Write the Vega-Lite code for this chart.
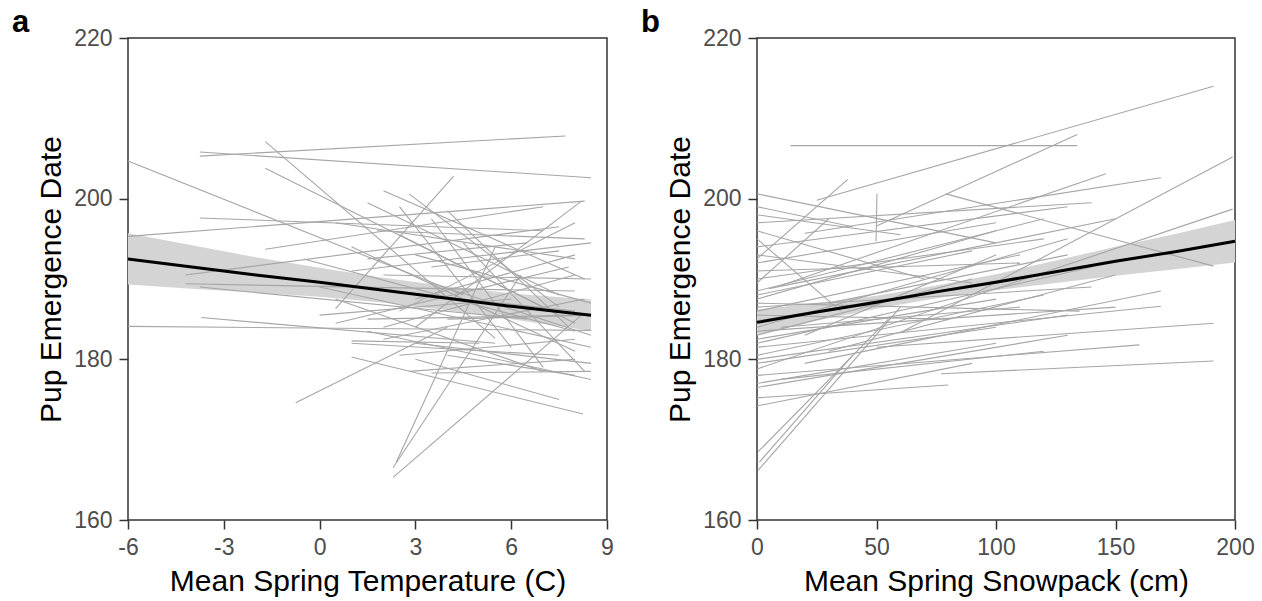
{
  "$schema": "https://vega.github.io/schema/vega-lite/v6.json",
  "background": "white",
  "padding": {"left": 11, "top": 6, "right": 0, "bottom": 0},
  "spacing": 25,
  "config": {
    "font": "Liberation Sans",
    "view": {"stroke": "#333333", "strokeWidth": 1.5},
    "axis": {
      "grid": false,
      "domain": false,
      "ticks": true,
      "tickColor": "#333333",
      "tickWidth": 1.5,
      "tickSize": 9,
      "labelColor": "#4D4D4D",
      "labelFontSize": 23,
      "labelFont": "Liberation Sans",
      "labelPadding": 7,
      "labelFlush": false,
      "labelOverlap": false,
      "labelExpr": "'' + datum.value",
      "titleColor": "#000000",
      "titleFontSize": 30,
      "titleFontWeight": "normal",
      "titleFont": "Liberation Sans",
      "titlePadding": 7
    },
    "title": {"fontSize": 31, "fontWeight": "bold", "font": "Liberation Sans", "color": "#000000", "anchor": "start", "frame": "group", "offset": -12}
  },
  "datasets": {
    "linesA": [
      {"id":1,"x":-6,"y":204.7},{"id":1,"x":4.5,"y":188.0},
      {"id":2,"x":-3.75,"y":205.3},{"id":2,"x":7.7,"y":207.8},
      {"id":3,"x":-3.75,"y":205.8},{"id":3,"x":8.5,"y":202.6},
      {"id":4,"x":-1.7,"y":207.1},{"id":4,"x":5.5,"y":182.6},
      {"id":5,"x":-1.7,"y":203.8},{"id":5,"x":7.0,"y":186.5},
      {"id":6,"x":-6,"y":195.3},{"id":6,"x":8.3,"y":199.7},
      {"id":7,"x":-6,"y":184.1},{"id":7,"x":8.5,"y":183.6},
      {"id":8,"x":-3.7,"y":185.2},{"id":8,"x":5.5,"y":182.0},
      {"id":9,"x":-0.75,"y":174.6},{"id":9,"x":4.0,"y":184.0},
      {"id":10,"x":2.3,"y":165.3},{"id":10,"x":8.2,"y":185.5},
      {"id":11,"x":2.3,"y":166.5},{"id":11,"x":6.3,"y":190.5},
      {"id":12,"x":2.4,"y":167.2},{"id":12,"x":5.5,"y":194.0},
      {"id":13,"x":0.5,"y":186.3},{"id":13,"x":4.2,"y":202.8},
      {"id":14,"x":1.0,"y":180.3},{"id":14,"x":8.25,"y":173.2},
      {"id":15,"x":3.0,"y":180.0},{"id":15,"x":7.5,"y":175.0},
      {"id":16,"x":-3.75,"y":197.6},{"id":16,"x":7.0,"y":196.0},
      {"id":17,"x":-4.2,"y":190.5},{"id":17,"x":7.5,"y":196.5},
      {"id":18,"x":-4.2,"y":189.4},{"id":18,"x":8.0,"y":188.5},
      {"id":19,"x":-3.75,"y":189.0},{"id":19,"x":6.5,"y":185.0},
      {"id":20,"x":-1.7,"y":193.7},{"id":20,"x":7.0,"y":199.0},
      {"id":21,"x":1.0,"y":194.0},{"id":21,"x":8.0,"y":181.0},
      {"id":22,"x":1.5,"y":199.5},{"id":22,"x":7.5,"y":188.0},
      {"id":23,"x":2.0,"y":201.0},{"id":23,"x":8.3,"y":190.0},
      {"id":24,"x":0.5,"y":197.0},{"id":24,"x":8.0,"y":192.5},
      {"id":25,"x":1.0,"y":191.0},{"id":25,"x":8.5,"y":194.5},
      {"id":26,"x":2.5,"y":186.0},{"id":26,"x":8.0,"y":197.0},
      {"id":27,"x":3.0,"y":184.0},{"id":27,"x":8.2,"y":199.7},
      {"id":28,"x":0.0,"y":189.0},{"id":28,"x":8.5,"y":181.5},
      {"id":29,"x":1.5,"y":185.0},{"id":29,"x":8.0,"y":185.5},
      {"id":30,"x":2.0,"y":182.5},{"id":30,"x":8.3,"y":187.5},
      {"id":31,"x":1.0,"y":182.0},{"id":31,"x":7.5,"y":180.5},
      {"id":32,"x":2.5,"y":180.5},{"id":32,"x":8.0,"y":182.5},
      {"id":33,"x":0.5,"y":187.5},{"id":33,"x":7.0,"y":178.5},
      {"id":34,"x":3.0,"y":193.0},{"id":34,"x":8.5,"y":187.0},
      {"id":35,"x":1.8,"y":196.0},{"id":35,"x":8.3,"y":195.0},
      {"id":36,"x":2.2,"y":188.5},{"id":36,"x":8.0,"y":186.0},
      {"id":37,"x":3.5,"y":191.5},{"id":37,"x":7.5,"y":193.5},
      {"id":38,"x":2.0,"y":190.5},{"id":38,"x":8.5,"y":190.0},
      {"id":39,"x":-0.5,"y":192.5},{"id":39,"x":8.0,"y":183.5},
      {"id":40,"x":3.0,"y":182.0},{"id":40,"x":8.5,"y":179.5},
      {"id":41,"x":2.8,"y":178.5},{"id":41,"x":8.0,"y":180.0},
      {"id":42,"x":3.5,"y":197.5},{"id":42,"x":7.0,"y":179.0},
      {"id":43,"x":2.5,"y":199.0},{"id":43,"x":6.0,"y":181.5},
      {"id":44,"x":1.5,"y":183.5},{"id":44,"x":8.5,"y":177.5},
      {"id":45,"x":4.0,"y":185.0},{"id":45,"x":8.5,"y":185.5},
      {"id":46,"x":4.5,"y":194.5},{"id":46,"x":8.3,"y":178.5},
      {"id":47,"x":3.0,"y":187.5},{"id":47,"x":8.0,"y":193.0},
      {"id":48,"x":1.0,"y":182.3},{"id":48,"x":5.0,"y":182.0},
      {"id":49,"x":2.8,"y":200.6},{"id":49,"x":7.5,"y":186.5},
      {"id":50,"x":3.5,"y":178.3},{"id":50,"x":8.5,"y":178.5},
      {"id":51,"x":0.5,"y":184.5},{"id":51,"x":7.8,"y":191.5},
      {"id":52,"x":4.0,"y":198.5},{"id":52,"x":7.8,"y":184.0},
      {"id":53,"x":2.0,"y":184.0},{"id":53,"x":8.0,"y":190.5},
      {"id":54,"x":3.5,"y":189.5},{"id":54,"x":8.5,"y":183.0},
      {"id":55,"x":1.5,"y":192.5},{"id":55,"x":6.5,"y":194.5},
      {"id":56,"x":4.0,"y":180.5},{"id":56,"x":8.0,"y":178.0},
      {"id":57,"x":2.5,"y":195.5},{"id":57,"x":8.0,"y":184.5},
      {"id":58,"x":0.0,"y":185.5},{"id":58,"x":6.0,"y":187.5}
    ],
    "ribbonA": [
      {"x":-6,"lo":189.3,"hi":195.7,"m":192.5},
      {"x":-4,"lo":188.8,"hi":194.2,"m":191.5},
      {"x":-2,"lo":188.3,"hi":192.7,"m":190.5},
      {"x":0,"lo":187.8,"hi":191.4,"m":189.6},
      {"x":2,"lo":187.05,"hi":190.15,"m":188.6},
      {"x":4,"lo":186.1,"hi":189.1,"m":187.6},
      {"x":6,"lo":185.0,"hi":188.2,"m":186.6},
      {"x":8.5,"lo":183.55,"hi":187.45,"m":185.5}
    ],
    "linesB": [
      {"id":1,"x":14,"y":206.6},{"id":1,"x":134,"y":206.6},
      {"id":2,"x":25,"y":199.8},{"id":2,"x":191,"y":214.0},
      {"id":3,"x":50,"y":196.6},{"id":3,"x":134,"y":208.0},
      {"id":4,"x":60,"y":183.3},{"id":4,"x":199,"y":205.2},
      {"id":5,"x":0,"y":178.8},{"id":5,"x":199,"y":198.7},
      {"id":6,"x":79,"y":200.6},{"id":6,"x":191,"y":191.6},
      {"id":7,"x":0,"y":200.6},{"id":7,"x":100,"y":194.5},
      {"id":8,"x":0,"y":192.5},{"id":8,"x":38,"y":202.4},
      {"id":9,"x":0,"y":195.0},{"id":9,"x":35,"y":186.0},
      {"id":10,"x":0,"y":189.5},{"id":10,"x":30,"y":197.5},
      {"id":11,"x":49.8,"y":194.7},{"id":11,"x":50.2,"y":200.6},
      {"id":12,"x":20,"y":179.5},{"id":12,"x":169,"y":188.5},
      {"id":13,"x":0,"y":181.5},{"id":13,"x":169,"y":186.6},
      {"id":14,"x":50,"y":181.5},{"id":14,"x":191,"y":184.5},
      {"id":15,"x":77,"y":178.2},{"id":15,"x":191,"y":179.8},
      {"id":16,"x":0.5,"y":166.2},{"id":16,"x":60,"y":186.5},
      {"id":17,"x":0.5,"y":168.5},{"id":17,"x":55,"y":185.0},
      {"id":18,"x":1,"y":167.2},{"id":18,"x":40,"y":180.5},
      {"id":19,"x":0,"y":175.2},{"id":19,"x":80,"y":176.8},
      {"id":20,"x":0,"y":174.2},{"id":20,"x":90,"y":179.5},
      {"id":21,"x":0,"y":178.0},{"id":21,"x":160,"y":181.8},
      {"id":22,"x":10,"y":189.2},{"id":22,"x":146,"y":203.1},
      {"id":23,"x":20,"y":195.7},{"id":23,"x":169,"y":202.6},
      {"id":24,"x":0,"y":197.0},{"id":24,"x":140,"y":199.5},
      {"id":25,"x":0,"y":194.0},{"id":25,"x":130,"y":199.0},
      {"id":26,"x":0,"y":188.5},{"id":26,"x":120,"y":197.5},
      {"id":27,"x":0,"y":187.5},{"id":27,"x":100,"y":196.0},
      {"id":28,"x":0,"y":186.0},{"id":28,"x":110,"y":193.0},
      {"id":29,"x":0,"y":184.0},{"id":29,"x":130,"y":195.0},
      {"id":30,"x":0,"y":183.0},{"id":30,"x":90,"y":190.0},
      {"id":31,"x":0,"y":182.0},{"id":31,"x":140,"y":191.5},
      {"id":32,"x":0,"y":180.5},{"id":32,"x":120,"y":188.0},
      {"id":33,"x":0,"y":179.5},{"id":33,"x":100,"y":184.0},
      {"id":34,"x":0,"y":183.5},{"id":34,"x":150,"y":186.5},
      {"id":35,"x":0,"y":185.5},{"id":35,"x":80,"y":185.0},
      {"id":36,"x":0,"y":191.0},{"id":36,"x":110,"y":192.0},
      {"id":37,"x":0,"y":193.0},{"id":37,"x":90,"y":189.5},
      {"id":38,"x":0,"y":198.0},{"id":38,"x":60,"y":195.5},
      {"id":39,"x":5,"y":188.8},{"id":39,"x":150,"y":197.5},
      {"id":40,"x":0,"y":176.5},{"id":40,"x":130,"y":183.0},
      {"id":41,"x":10,"y":177.5},{"id":41,"x":120,"y":181.0},
      {"id":42,"x":0,"y":187.0},{"id":42,"x":135,"y":186.0},
      {"id":43,"x":30,"y":181.0},{"id":43,"x":150,"y":190.5},
      {"id":44,"x":0,"y":184.8},{"id":44,"x":115,"y":190.5},
      {"id":45,"x":20,"y":183.0},{"id":45,"x":100,"y":193.0},
      {"id":46,"x":0,"y":196.0},{"id":46,"x":70,"y":190.0},
      {"id":47,"x":0,"y":190.0},{"id":47,"x":120,"y":195.0},
      {"id":48,"x":0,"y":186.5},{"id":48,"x":140,"y":189.0},
      {"id":49,"x":0,"y":182.5},{"id":49,"x":100,"y":187.5},
      {"id":50,"x":0,"y":180.0},{"id":50,"x":130,"y":185.5},
      {"id":51,"x":0,"y":188.0},{"id":51,"x":90,"y":193.5},
      {"id":52,"x":10,"y":184.0},{"id":52,"x":110,"y":186.5},
      {"id":53,"x":0,"y":177.0},{"id":53,"x":100,"y":182.0},
      {"id":54,"x":0,"y":192.0},{"id":54,"x":100,"y":197.0},
      {"id":55,"x":30,"y":187.0},{"id":55,"x":130,"y":193.0},
      {"id":56,"x":0,"y":199.0},{"id":56,"x":40,"y":196.5}
    ],
    "ribbonB": [
      {"x":0,"lo":183.0,"hi":186.2,"m":184.6},
      {"x":25,"lo":184.8,"hi":187.0,"m":185.9},
      {"x":50,"lo":186.3,"hi":187.9,"m":187.1},
      {"x":75,"lo":187.6,"hi":189.2,"m":188.4},
      {"x":100,"lo":188.6,"hi":190.6,"m":189.6},
      {"x":125,"lo":189.5,"hi":192.3,"m":190.9},
      {"x":150,"lo":190.4,"hi":194.0,"m":192.2},
      {"x":175,"lo":191.2,"hi":195.6,"m":193.4},
      {"x":200,"lo":192.05,"hi":197.35,"m":194.7}
    ]
  },
  "hconcat": [
    {
      "width": 479,
      "height": 482,
      "title": {"text": "a", "dx": -116},
      "layer": [
        {
          "data": {"name": "ribbonA"},
          "mark": {"type": "area", "color": "#D4D4D4", "opacity": 1},
          "encoding": {
            "x": {"field": "x", "type": "quantitative", "scale": {"domain": [-6, 9], "nice": false, "zero": false}, "axis": {"values": [-6, -3, 0, 3, 6, 9], "title": "Mean Spring Temperature (C)"}},
            "y": {"field": "lo", "type": "quantitative", "scale": {"domain": [160, 220], "nice": false, "zero": false}, "axis": {"values": [160, 180, 200, 220], "title": "Pup Emergence Date"}},
            "y2": {"field": "hi"}
          }
        },
        {
          "data": {"name": "linesA"},
          "mark": {"type": "line", "color": "#A6A6A6", "strokeWidth": 1.1},
          "encoding": {
            "x": {"field": "x", "type": "quantitative"},
            "y": {"field": "y", "type": "quantitative"},
            "detail": {"field": "id", "type": "nominal"}
          }
        },
        {
          "data": {"name": "ribbonA"},
          "mark": {"type": "line", "color": "#000000", "strokeWidth": 3},
          "encoding": {
            "x": {"field": "x", "type": "quantitative"},
            "y": {"field": "m", "type": "quantitative"}
          }
        }
      ]
    },
    {
      "width": 478,
      "height": 482,
      "title": {"text": "b", "dx": -116},
      "layer": [
        {
          "data": {"name": "ribbonB"},
          "mark": {"type": "area", "color": "#D4D4D4", "opacity": 1},
          "encoding": {
            "x": {"field": "x", "type": "quantitative", "scale": {"domain": [0, 200], "nice": false, "zero": false}, "axis": {"values": [0, 50, 100, 150, 200], "title": "Mean Spring Snowpack (cm)"}},
            "y": {"field": "lo", "type": "quantitative", "scale": {"domain": [160, 220], "nice": false, "zero": false}, "axis": {"values": [160, 180, 200, 220], "title": "Pup Emergence Date"}},
            "y2": {"field": "hi"}
          }
        },
        {
          "data": {"name": "linesB"},
          "mark": {"type": "line", "color": "#A6A6A6", "strokeWidth": 1.1},
          "encoding": {
            "x": {"field": "x", "type": "quantitative"},
            "y": {"field": "y", "type": "quantitative"},
            "detail": {"field": "id", "type": "nominal"}
          }
        },
        {
          "data": {"name": "ribbonB"},
          "mark": {"type": "line", "color": "#000000", "strokeWidth": 3},
          "encoding": {
            "x": {"field": "x", "type": "quantitative"},
            "y": {"field": "m", "type": "quantitative"}
          }
        }
      ]
    }
  ]
}
